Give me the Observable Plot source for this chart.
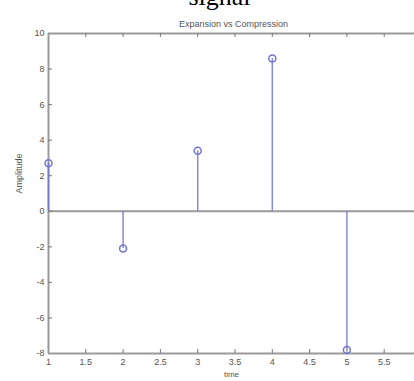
<!DOCTYPE html>
<html>
<head>
<meta charset="utf-8">
<script src="https://cdn.jsdelivr.net/npm/d3@7"></script>
<script src="https://cdn.jsdelivr.net/npm/@observablehq/plot@0.6"></script>
<style>
  html, body { margin: 0; padding: 0; background: #fff; overflow: hidden; }
  #chart { width: 414px; height: 381px; overflow: hidden; }
</style>
</head>
<body>
<div id="chart"></div>
<script>
const times = [1, 2, 3, 4, 5];
const amplitudes = [2.7, -2.1, 3.4, 8.6, -7.8];
const xTicks = [1, 1.5, 2, 2.5, 3, 3.5, 4, 4.5, 5, 5.5];
const yTicks = [-8, -6, -4, -2, 0, 2, 4, 6, 8, 10];
const titleText = "signal";
const subtitleText = "Expansion vs Compression";
const xLabel = "time";
const yLabel = "Amplitude";

const data = times.map((t, i) => ({time: t, amp: amplitudes[i]}));

const W = 414, H = 381;
const mL = 48, mT = 33, mB = 28, mR = 0;
const frameH = H - mT - mB;
const frameW = W - mL - mR;
const axisColor = "#9a9a9a";
const textColor = "#555";
const stemColor = "#7474d4";
const font = "Liberation Sans, Arial, sans-serif";

const chart = Plot.plot({
  width: W,
  height: H,
  marginLeft: mL,
  marginTop: mT,
  marginBottom: mB,
  marginRight: mR,
  style: {fontFamily: font, fontSize: "9px", color: textColor, background: "#fff"},
  x: {domain: [1, 6], range: [mL, 421]},
  y: {domain: [-8, 10], range: [H - mB, mT]},
  marks: [
    // box
    Plot.ruleY([yTicks[0], yTicks[yTicks.length - 1]], {stroke: axisColor, strokeWidth: 2}),
    Plot.ruleX([xTicks[0]], {stroke: axisColor, strokeWidth: 2}),
    // zero line
    Plot.ruleY([0], {stroke: axisColor, strokeWidth: 2}),
    // inward ticks
    Plot.tickX(xTicks.slice(1), {x: d => d, insetTop: frameH - 4, stroke: "#777", strokeWidth: 1}),
    Plot.tickX(xTicks.slice(1), {x: d => d, insetBottom: frameH - 4, stroke: "#777", strokeWidth: 1}),
    Plot.tickY(yTicks.slice(1, -1), {y: d => d, insetRight: frameW - 4, stroke: "#777", strokeWidth: 1}),
    // tick labels
    Plot.axisX({ticks: xTicks, tickSize: 0, tickPadding: 5, label: null, tickFormat: d => String(d), fill: textColor}),
    Plot.axisY({ticks: yTicks, tickSize: 0, tickPadding: 4, label: null, tickFormat: d => String(d), fill: textColor}),
    // stems
    Plot.ruleX(data, {x: "time", y1: 0, y2: "amp", stroke: stemColor, strokeWidth: 1.5, strokeOpacity: 0.85}),
    Plot.dot(data, {x: "time", y: "amp", r: 3.5, stroke: stemColor, strokeWidth: 1.5, fill: "none"}),
    // titles and axis labels
    Plot.text([titleText], {frameAnchor: "top", dx: -12, dy: -47, fontSize: 26, fontFamily: "Liberation Serif, Times New Roman, serif", fill: "#000"}),
    Plot.text([subtitleText], {frameAnchor: "top", dx: 2, dy: -13, fontSize: 9, fill: textColor}),
    Plot.text([xLabel], {frameAnchor: "bottom", dx: 0, dy: 23, fontSize: 8, fill: textColor}),
    Plot.text([yLabel], {frameAnchor: "left", dx: -29, rotate: -90, fontSize: 9, fill: textColor})
  ]
});
document.getElementById("chart").appendChild(chart);
</script>
</body>
</html>
